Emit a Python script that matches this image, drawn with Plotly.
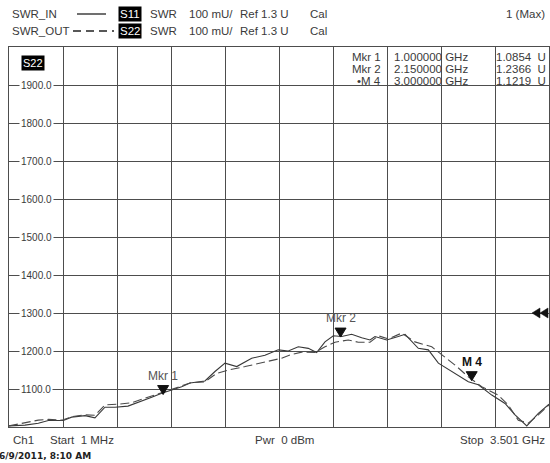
import plotly.graph_objects as go

# ---- data (GHz, SWR in U) ----
freq_in = [0.001, 0.105, 0.191, 0.256, 0.353, 0.407, 0.494, 0.558, 0.623, 0.688,
           0.772, 0.836, 0.926, 0.991, 1.056, 1.120, 1.174, 1.271, 1.336, 1.401,
           1.477, 1.574, 1.660, 1.746, 1.811, 1.876, 1.941, 1.995, 2.049, 2.103,
           2.157, 2.222, 2.287, 2.341, 2.373, 2.449, 2.524, 2.568, 2.654, 2.719,
           2.784, 2.870, 2.978, 3.043, 3.130, 3.216, 3.281, 3.357, 3.432, 3.501]
swr_in = [1.003, 1.005, 1.010, 1.017, 1.017, 1.026, 1.030, 1.024, 1.052, 1.052,
          1.055, 1.064, 1.078, 1.089, 1.097, 1.106, 1.116, 1.121, 1.146, 1.168,
          1.159, 1.181, 1.189, 1.203, 1.200, 1.211, 1.207, 1.196, 1.224, 1.240,
          1.238, 1.244, 1.235, 1.229, 1.238, 1.229, 1.238, 1.244, 1.207, 1.203,
          1.168, 1.146, 1.119, 1.111, 1.084, 1.062, 1.032, 1.003, 1.036, 1.060]

freq_out = [0.001, 0.105, 0.191, 0.256, 0.343, 0.407, 0.494, 0.558, 0.623, 0.709,
            0.796, 0.882, 0.969, 1.056, 1.174, 1.271, 1.347, 1.422, 1.531, 1.660,
            1.768, 1.833, 1.898, 1.984, 2.049, 2.114, 2.200, 2.265, 2.341, 2.395,
            2.459, 2.546, 2.632, 2.741, 2.827, 2.892, 2.978, 3.065, 3.172, 3.237,
            3.302, 3.367, 3.432, 3.501]
swr_out = [1.003, 1.011, 1.018, 1.020, 1.018, 1.027, 1.032, 1.031, 1.058, 1.060,
           1.064, 1.076, 1.087, 1.099, 1.116, 1.119, 1.141, 1.150, 1.159, 1.172,
           1.181, 1.191, 1.197, 1.196, 1.211, 1.223, 1.229, 1.223, 1.223, 1.240,
           1.232, 1.247, 1.224, 1.211, 1.185, 1.163, 1.132, 1.106, 1.084, 1.058,
           1.018, 1.010, 1.032, 1.058]

marker_labels = ["Mkr 1", "Mkr 2", "M 4"]
marker_table_names = ["Mkr 1", "Mkr 2", "\u2022M 4"]
marker_freq = [1.0, 2.15, 3.0]
marker_swr = [1.0854, 1.2366, 1.1219]
marker_freq_text = ["1.000000 GHz", "2.150000 GHz", "3.000000 GHz"]
marker_swr_text = ["1.0854\u00a0\u00a0U", "1.2366\u00a0\u00a0U", "1.1219\u00a0\u00a0U"]

y_tick_vals = [1.1, 1.2, 1.3, 1.4, 1.5, 1.6, 1.7, 1.8, 1.9]
y_tick_labels = ["1100.0", "1200.0", "1300.0", "1400.0", "1500.0",
                 "1600.0", "1700.0", "1800.0", "1900.0"]
ref_level = 1.3

x_start, x_stop = 0.001, 3.501
y_min, y_max = 1.0, 2.0

# ---- layout geometry (pixels) ----
W, H = 550, 463
L, R, T, B = 9, 549, 47, 427
FONT = "Liberation Sans, Arial, sans-serif"
TXT = "#3a3a3a"
GRID = "#4d4d4d"


def px(x):
    return (x - L) / (R - L)


def py(y):
    return (B - y) / (B - T)


fig = go.Figure()
fig.add_trace(go.Scatter(x=freq_in, y=swr_in, mode="lines",
                         line=dict(color="#383838", width=1.1), name="SWR_IN"))
fig.add_trace(go.Scatter(x=freq_out, y=swr_out, mode="lines",
                         line=dict(color="#4a4a4a", width=1.1, dash="9px,4px"),
                         name="SWR_OUT"))

annotations = []
shapes = []


def txt(x, y, s, size=11.5, anchor="left", color=TXT, bold=False, family=FONT, **kw):
    if bold:
        s = "<b>" + s + "</b>"
    d = dict(xref="paper", yref="paper", x=px(x), y=py(y), text=s, showarrow=False,
             xanchor=anchor, yanchor="middle", font=dict(family=family, size=size, color=color))
    d.update(kw)
    annotations.append(d)


# header
hy1, hy2 = 14, 31
txt(10, hy1, "SWR_IN")
txt(10, hy2, "SWR_OUT")
shapes.append(dict(type="line", xref="paper", yref="paper", x0=px(77), x1=px(106),
                   y0=py(hy1), y1=py(hy1), line=dict(color="#222", width=1.3)))
shapes.append(dict(type="line", xref="paper", yref="paper", x0=px(73), x1=px(114),
                   y0=py(hy2), y1=py(hy2), line=dict(color="#222", width=1.3, dash="8px,5px")))
txt(129.5, hy1, "S11", anchor="center", color="white", bgcolor="black", borderpad=1)
txt(129.5, hy2, "S22", anchor="center", color="white", bgcolor="black", borderpad=1)
for yy in (hy1, hy2):
    txt(148, yy, "SWR")
    txt(187, yy, "100 mU/")
    txt(238, yy, "Ref 1.3 U")
    txt(308, yy, "Cal")
txt(547, hy1, "1 (Max)", anchor="right")

# trace label in plot
txt(33, 63, "S22", anchor="center", color="white", bgcolor="black", borderpad=1, size=11)

# y tick labels inside plot
for v, lab in zip(y_tick_vals, y_tick_labels):
    annotations.append(dict(xref="paper", yref="y", x=px(36), y=v, text=lab, showarrow=False,
                            xanchor="center", yanchor="middle", bgcolor="white", borderpad=1,
                            font=dict(family=FONT, size=10, color=TXT)))

# marker table
row_y = [57, 69, 81]
for i in range(3):
    txt(383, row_y[i], marker_table_names[i], anchor="right", size=11.5)
    txt(392, row_y[i], marker_freq_text[i], size=11.5)
    txt(494, row_y[i], marker_swr_text[i], size=11.5)

# markers (triangles with tip on the trace)
for lab, f, v in zip(marker_labels, marker_freq, marker_swr):
    shapes.append(dict(type="path", xref="x", yref="y", xsizemode="pixel", ysizemode="pixel",
                       xanchor=f, yanchor=v, path="M -5.5,9 L 5.5,9 L 0,0 Z",
                       fillcolor="#111", line=dict(color="#111", width=1)))
    bold = lab.startswith("M ")
    annotations.append(dict(xref="x", yref="y", x=f, y=v, text=("<b>" + lab + "</b>") if bold else lab,
                            showarrow=False, xanchor="center", yanchor="bottom", yshift=10,
                            font=dict(family=FONT, size=12, color="#111" if bold else "#555")))

# reference level arrows at right edge
for dx in (0, 8):
    shapes.append(dict(type="path", xref="x", yref="y", xsizemode="pixel", ysizemode="pixel",
                       xanchor=x_stop, yanchor=ref_level,
                       path=f"M {-17+dx},0 L {-9+dx},5 L {-9+dx},-5 Z",
                       fillcolor="#111", line=dict(color="#111", width=0.5)))

# footer
txt(11, 440, "Ch1")
txt(48, 440, "Start\u00a0\u00a01 MHz")
txt(253, 440, "Pwr\u00a0\u00a00 dBm")
txt(547, 440, "Stop\u00a0\u00a03.501 GHz", anchor="right")
txt(-3, 456, "6/9/2011, 8:10 AM", size=9, bold=True, family="DejaVu Sans, sans-serif", color="#222")

fig.update_layout(
    width=W, height=H,
    margin=dict(l=L, r=W - R, t=T, b=H - B, pad=0),
    paper_bgcolor="white", plot_bgcolor="white",
    showlegend=False,
    annotations=annotations, shapes=shapes,
    xaxis=dict(range=[x_start, x_stop], tick0=x_start, dtick=(x_stop - x_start) / 10,
               showticklabels=False, ticks="", showgrid=True, gridcolor=GRID, gridwidth=1,
               zeroline=False, showline=True, linecolor=GRID, linewidth=1, mirror=True,
               fixedrange=True),
    yaxis=dict(range=[y_min, y_max], tick0=y_min, dtick=0.1,
               showticklabels=False, ticks="", showgrid=True, gridcolor=GRID, gridwidth=1,
               zeroline=False, showline=True, linecolor=GRID, linewidth=1, mirror=True,
               fixedrange=True),
)

fig.write_html("out.html", config={"displayModeBar": False},
               post_script="document.body.style.margin='0';document.body.style.padding='0';")
